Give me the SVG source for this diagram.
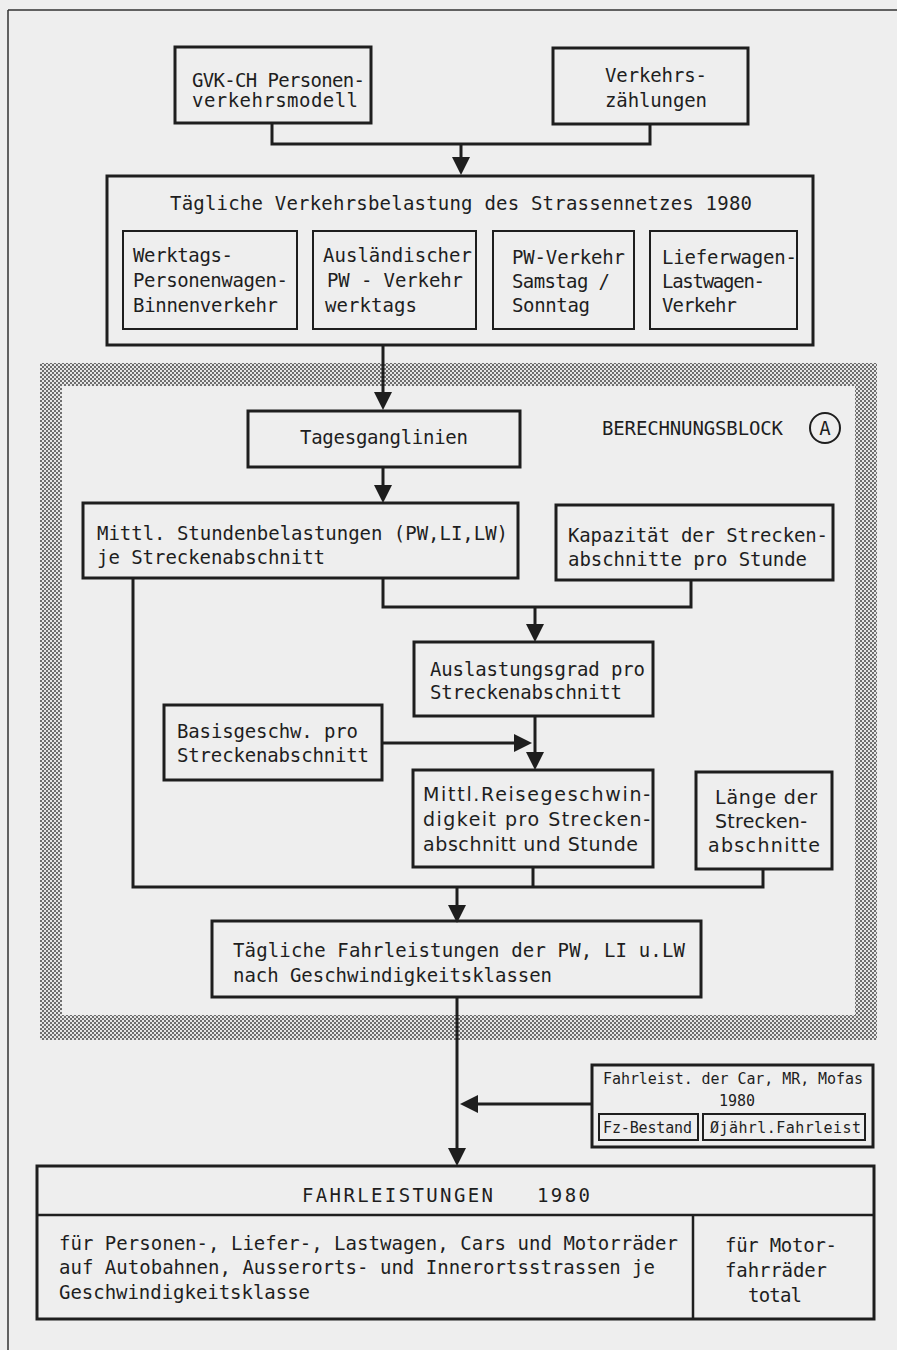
<svg xmlns="http://www.w3.org/2000/svg" width="897" height="1350" viewBox="0 0 897 1350">
<style>
.t{font-family:"DejaVu Sans Mono","Liberation Mono",monospace;font-size:19px;fill:#1e1e1e}
.p{font-family:"DejaVu Sans","Liberation Sans",sans-serif;font-size:19px;fill:#1e1e1e}
.s{font-size:15px}
.b{fill:none;stroke:#1e1e1e;stroke-width:3}
.bi{fill:none;stroke:#1e1e1e;stroke-width:2}
.c{fill:none;stroke:#1e1e1e;stroke-width:3}
.a{fill:none;stroke:#1e1e1e;stroke-width:3;marker-end:url(#ah)}
</style>
<defs>
<marker id="ah" markerUnits="userSpaceOnUse" markerWidth="20" markerHeight="20" refX="0" refY="9" orient="auto" overflow="visible">
<path d="M0,0 L18,9 L0,18 Z" fill="#1e1e1e"/>
</marker>
<pattern id="dots" width="4" height="4" patternUnits="userSpaceOnUse">
<rect width="4" height="4" fill="#e6e6e6"/>
<circle cx="1" cy="1" r="0.95" fill="#3a3a3a"/>
<circle cx="3" cy="3" r="0.95" fill="#3a3a3a"/>
</pattern>
</defs>
<rect x="0" y="0" width="897" height="1350" fill="#eeeeee"/>
<path d="M8,10 H897 M8,10 V1350" stroke="#333" stroke-width="1.5" fill="none"/>

<g id="berechnungsblock">
<path d="M40,363 H877 V1040 H40 Z M62,386 V1015 H855 V386 Z" fill="url(#dots)" fill-rule="evenodd"/>
<text class="t" x="602" y="435" textLength="181">BERECHNUNGSBLOCK</text>
<circle cx="825" cy="428" r="15" fill="none" stroke="#1e1e1e" stroke-width="2"/>
<text class="t" x="825" y="435" text-anchor="middle">A</text>
</g>

<g id="connectors">
<path class="c" d="M272,123 V144 H650 V124"/>
<path class="a" d="M461,144 V157"/>
<path class="a" d="M383,345 V392"/>
<path class="a" d="M383,467 V485"/>
<path class="c" d="M383,578 V607 H691 V580"/>
<path class="a" d="M535,607 V624"/>
<path class="a" d="M535,716 V752"/>
<path class="a" d="M382,743 H514"/>
<path class="c" d="M133,578 V887 H763 V869 M533,867 V887"/>
<path class="a" d="M457,887 V905"/>
<path class="a" d="M457,997 V1148"/>
<path class="a" d="M592,1104 H478"/>
</g>

<g id="gvk">
<rect class="b" x="175" y="47" width="196" height="76"/>
<text class="t" x="192" y="87" textLength="173">GVK-CH Personen-</text>
<text class="t" x="192" y="107" textLength="166">verkehrsmodell</text>
</g>

<g id="verkehrszaehlungen">
<rect class="b" x="553" y="48" width="195" height="76"/>
<text class="t" x="605" y="82" textLength="102">Verkehrs-</text>
<text class="t" x="605" y="107" textLength="102">zählungen</text>
</g>

<g id="taegliche-belastung">
<rect class="b" x="107" y="176" width="706" height="169"/>
<text class="t" x="170" y="210" textLength="582">Tägliche Verkehrsbelastung des Strassennetzes  1980</text>
</g>

<g id="werktags">
<rect class="bi" x="123" y="231" width="174" height="98"/>
<text class="t" x="133" y="262" textLength="100">Werktags-</text>
<text class="t" x="133" y="287" textLength="155">Personenwagen-</text>
<text class="t" x="133" y="312" textLength="145">Binnenverkehr</text>
</g>

<g id="auslaendischer">
<rect class="bi" x="313" y="231" width="163" height="98"/>
<text class="t" x="323" y="262" textLength="149">Ausländischer</text>
<text class="t" x="327" y="287" textLength="136">PW - Verkehr</text>
<text class="t" x="325" y="312" textLength="92">werktags</text>
</g>

<g id="pw-wochenende">
<rect class="bi" x="493" y="231" width="141" height="98"/>
<text class="t" x="512" y="264" textLength="113">PW-Verkehr</text>
<text class="t" x="512" y="288" textLength="98">Samstag /</text>
<text class="t" x="512" y="312" textLength="78">Sonntag</text>
</g>

<g id="lieferwagen">
<rect class="bi" x="650" y="231" width="147" height="98"/>
<text class="t" x="662" y="264" textLength="135">Lieferwagen-</text>
<text class="t" x="662" y="288" textLength="103">Lastwagen-</text>
<text class="t" x="662" y="312" textLength="75">Verkehr</text>
</g>

<g id="tagesganglinien">
<rect class="b" x="248" y="411" width="272" height="56"/>
<text class="t" x="300" y="444" textLength="168">Tagesganglinien</text>
</g>

<g id="stundenbelastungen">
<rect class="b" x="83" y="503" width="435" height="75"/>
<text class="t" x="97" y="540" textLength="411">Mittl. Stundenbelastungen (PW,LI,LW)</text>
<text class="t" x="97" y="564" textLength="228">je Streckenabschnitt</text>
</g>

<g id="kapazitaet">
<rect class="b" x="556" y="505" width="277" height="75"/>
<text class="t" x="568" y="542" textLength="260">Kapazität der Strecken-</text>
<text class="t" x="568" y="566" textLength="239">abschnitte pro Stunde</text>
</g>

<g id="auslastungsgrad">
<rect class="b" x="414" y="642" width="239" height="74"/>
<text class="t" x="430" y="676" textLength="215">Auslastungsgrad pro</text>
<text class="t" x="430" y="699" textLength="192">Streckenabschnitt</text>
</g>

<g id="basisgeschw">
<rect class="b" x="164" y="705" width="218" height="75"/>
<text class="t" x="177" y="738" textLength="181">Basisgeschw. pro</text>
<text class="t" x="177" y="762" textLength="192">Streckenabschnitt</text>
</g>

<g id="reisegeschw">
<rect class="b" x="413" y="770" width="240" height="97"/>
<text class="p" x="423" y="801" textLength="227">Mittl.Reisegeschwin-</text>
<text class="p" x="423" y="826" textLength="227">digkeit pro Strecken-</text>
<text class="p" x="423" y="851" textLength="215">abschnitt und Stunde</text>
</g>

<g id="laenge">
<rect class="b" x="696" y="772" width="136" height="97"/>
<text class="p" x="715" y="804" textLength="102">Länge der</text>
<text class="p" x="715" y="828" textLength="92">Strecken-</text>
<text class="p" x="708" y="852" textLength="112">abschnitte</text>
</g>

<g id="taegliche-fahrleistungen">
<rect class="b" x="212" y="921" width="489" height="76"/>
<text class="t" x="233" y="957" textLength="452">Tägliche Fahrleistungen der PW, LI u.LW</text>
<text class="t" x="233" y="982" textLength="319">nach Geschwindigkeitsklassen</text>
</g>

<g id="car-mr-mofas">
<rect class="b" x="592" y="1065" width="281" height="82"/>
<text class="t s" x="603" y="1084" textLength="260">Fahrleist. der Car, MR, Mofas</text>
<text class="t s" x="737" y="1106" text-anchor="middle">1980</text>
<rect class="bi" x="599" y="1114" width="99" height="26"/>
<rect class="bi" x="703" y="1114" width="162" height="26"/>
<text class="t s" x="603" y="1133" textLength="89">Fz-Bestand</text>
<text class="t s" x="710" y="1133" textLength="151">Øjährl.Fahrleist</text>
</g>

<g id="fahrleistungen">
<rect class="b" x="37" y="1166" width="837" height="153"/>
<path d="M37,1215 H874 M693,1215 V1319" stroke="#1e1e1e" stroke-width="2.5" fill="none"/>
<text class="t" x="302" y="1202" textLength="191">FAHRLEISTUNGEN</text>
<text class="t" x="537" y="1202" textLength="53">1980</text>
<text class="t" x="59" y="1250" textLength="619">für Personen-, Liefer-, Lastwagen, Cars und Motorräder</text>
<text class="t" x="59" y="1274" textLength="596">auf Autobahnen, Ausserorts- und Innerortsstrassen je</text>
<text class="t" x="59" y="1299" textLength="251">Geschwindigkeitsklasse</text>
<text class="t" x="725" y="1252" textLength="112">für Motor-</text>
<text class="t" x="725" y="1277" textLength="102">fahrräder</text>
<text class="t" x="748" y="1302" textLength="54">total</text>
</g>
</svg>
